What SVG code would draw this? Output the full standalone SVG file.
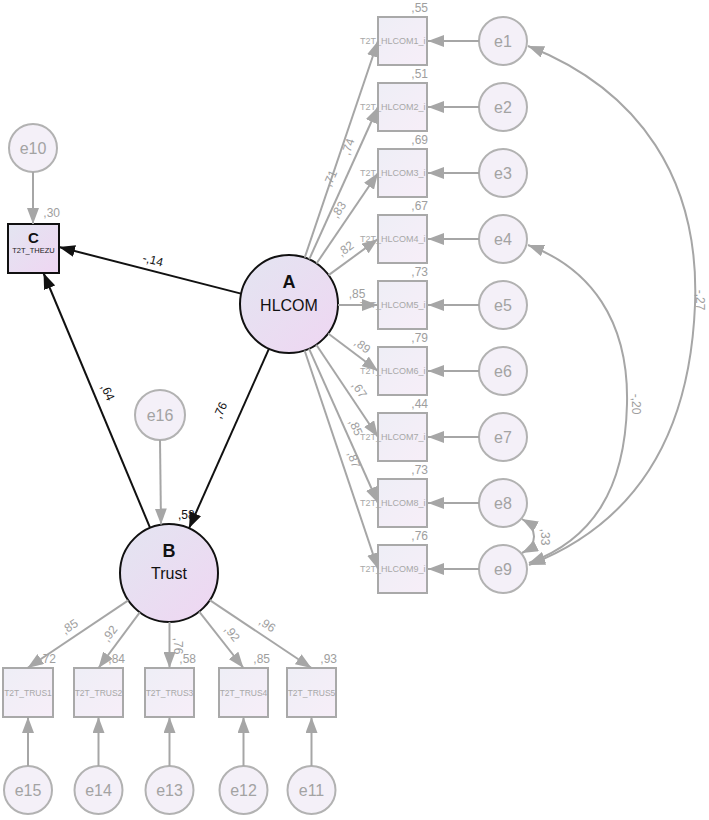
<svg xmlns="http://www.w3.org/2000/svg" width="709" height="820" viewBox="0 0 709 820">
<style>
text{font-family:"Liberation Sans",Arial,sans-serif}
.box{fill:url(#gbox);stroke:#a9a9a9;stroke-width:2}
.err{fill:#f4f0f8;stroke:#b2b2b2;stroke-width:2}
.lat{fill:url(#glat);stroke:#111;stroke-width:2}
.et{font-size:16px;fill:#a3a3a3;text-anchor:middle}
.bt{font-size:9px;fill:#a8a8a8}
.tt{font-size:8.5px;fill:#a8a8a8;text-anchor:middle}
.lab{font-size:12px;fill:#9e9e9e}
.r2{font-size:12px;fill:#9e9e9e;text-anchor:end}
.blab{font-size:12px;fill:#111}
.g{stroke:#a6a6a6;stroke-width:2;fill:none;marker-end:url(#ag)}
.gc{stroke:#a6a6a6;stroke-width:2;fill:none;marker-end:url(#ag);marker-start:url(#ag)}
.k{stroke:#111;stroke-width:2;fill:none;marker-end:url(#ak)}
</style>
<defs>
<linearGradient id="gbox" x1="0" y1="0" x2="1" y2="1"><stop offset="0" stop-color="#eeeef6"/><stop offset="1" stop-color="#f7eef8"/></linearGradient>
<linearGradient id="glat" x1="0" y1="0" x2="1" y2="1"><stop offset="0" stop-color="#e3e5f1"/><stop offset="1" stop-color="#efd6f2"/></linearGradient>
<marker id="ag" markerUnits="userSpaceOnUse" markerWidth="16" markerHeight="12" refX="16" refY="6" orient="auto-start-reverse"><path d="M0,0 L16,6 L0,12 z" fill="#a6a6a6"/></marker>
<marker id="ak" markerUnits="userSpaceOnUse" markerWidth="16" markerHeight="12" refX="16" refY="6" orient="auto"><path d="M0,0 L16,6 L0,12 z" fill="#111"/></marker>
</defs>
<rect width="709" height="820" fill="#fff"/>

<g id="e10"><circle class="err" cx="33" cy="148" r="24"/><text class="et" x="33" y="154">e10</text></g>
<g id="C"><rect x="8" y="224" width="51" height="49" fill="url(#glat)" stroke="#111" stroke-width="2"/><text x="33.5" y="243" font-size="15" font-weight="bold" text-anchor="middle" fill="#111">C</text><text x="33.5" y="253" font-size="7.5" text-anchor="middle" fill="#222">T2T_THEZU</text><text class="r2" x="60" y="217">,30</text></g>

<g id="A"><circle class="lat" cx="289" cy="304" r="49"/><text x="289" y="288" font-size="18" font-weight="bold" text-anchor="middle" fill="#111">A</text><text x="289" y="311" font-size="16" text-anchor="middle" fill="#111">HLCOM</text></g>
<g id="B"><circle class="lat" cx="169" cy="573" r="49"/><text x="169" y="557" font-size="18" font-weight="bold" text-anchor="middle" fill="#111">B</text><text x="169" y="579" font-size="16" text-anchor="middle" fill="#111">Trust</text><text class="blab" x="178" y="519">,58</text></g>
<g id="e16"><circle class="err" cx="160" cy="415" r="25"/><text class="et" x="160" y="421">e16</text></g>

<g id="HLCOM1"><rect class="box" x="378" y="17" width="49" height="48"/><text class="bt" x="360" y="44">T2T_HLCOM1_i</text><text class="r2" x="428" y="12">,55</text></g>
<g id="HLCOM2"><rect class="box" x="378" y="83" width="49" height="48"/><text class="bt" x="360" y="110">T2T_HLCOM2_i</text><text class="r2" x="428" y="78">,51</text></g>
<g id="HLCOM3"><rect class="box" x="378" y="149" width="49" height="48"/><text class="bt" x="360" y="176">T2T_HLCOM3_i</text><text class="r2" x="428" y="144">,69</text></g>
<g id="HLCOM4"><rect class="box" x="378" y="215" width="49" height="48"/><text class="bt" x="360" y="242">T2T_HLCOM4_i</text><text class="r2" x="428" y="210">,67</text></g>
<g id="HLCOM5"><rect class="box" x="378" y="281" width="49" height="48"/><text class="bt" x="360" y="308">T2T_HLCOM5_i</text><text class="r2" x="428" y="276">,73</text></g>
<g id="HLCOM6"><rect class="box" x="378" y="347" width="49" height="48"/><text class="bt" x="360" y="374">T2T_HLCOM6_i</text><text class="r2" x="428" y="342">,79</text></g>
<g id="HLCOM7"><rect class="box" x="378" y="413" width="49" height="48"/><text class="bt" x="360" y="440">T2T_HLCOM7_i</text><text class="r2" x="428" y="408">,44</text></g>
<g id="HLCOM8"><rect class="box" x="378" y="479" width="49" height="48"/><text class="bt" x="360" y="506">T2T_HLCOM8_i</text><text class="r2" x="428" y="474">,73</text></g>
<g id="HLCOM9"><rect class="box" x="378" y="545" width="49" height="48"/><text class="bt" x="360" y="572">T2T_HLCOM9_i</text><text class="r2" x="428" y="540">,76</text></g>

<g id="e1"><circle class="err" cx="503" cy="41" r="24"/><text class="et" x="503" y="47">e1</text></g>
<g id="e2"><circle class="err" cx="503" cy="107" r="24"/><text class="et" x="503" y="113">e2</text></g>
<g id="e3"><circle class="err" cx="503" cy="173" r="24"/><text class="et" x="503" y="179">e3</text></g>
<g id="e4"><circle class="err" cx="503" cy="239" r="24"/><text class="et" x="503" y="245">e4</text></g>
<g id="e5"><circle class="err" cx="503" cy="305" r="24"/><text class="et" x="503" y="311">e5</text></g>
<g id="e6"><circle class="err" cx="503" cy="371" r="24"/><text class="et" x="503" y="377">e6</text></g>
<g id="e7"><circle class="err" cx="503" cy="437" r="24"/><text class="et" x="503" y="443">e7</text></g>
<g id="e8"><circle class="err" cx="503" cy="503" r="24"/><text class="et" x="503" y="509">e8</text></g>
<g id="e9"><circle class="err" cx="503" cy="569" r="24"/><text class="et" x="503" y="575">e9</text></g>

<g id="TRUS1"><rect class="box" x="3" y="668" width="50" height="49"/><text class="tt" x="28" y="696">T2T_TRUS1</text><text class="r2" x="56" y="663">,72</text></g>
<g id="TRUS2"><rect class="box" x="74" y="668" width="49" height="49"/><text class="tt" x="98.5" y="696">T2T_TRUS2</text><text class="r2" x="125" y="663">,84</text></g>
<g id="TRUS3"><rect class="box" x="145" y="668" width="49" height="49"/><text class="tt" x="169.5" y="696">T2T_TRUS3</text><text class="r2" x="196" y="663">,58</text></g>
<g id="TRUS4"><rect class="box" x="219" y="668" width="49" height="49"/><text class="tt" x="243.5" y="696">T2T_TRUS4</text><text class="r2" x="270" y="663">,85</text></g>
<g id="TRUS5"><rect class="box" x="287" y="668" width="49" height="49"/><text class="tt" x="311.5" y="696">T2T_TRUS5</text><text class="r2" x="337" y="663">,93</text></g>

<g id="e15"><circle class="err" cx="28" cy="790" r="24"/><text class="et" x="28" y="796">e15</text></g>
<g id="e14"><circle class="err" cx="98.5" cy="790" r="24"/><text class="et" x="98.5" y="796">e14</text></g>
<g id="e13"><circle class="err" cx="169.5" cy="790" r="24"/><text class="et" x="169.5" y="796">e13</text></g>
<g id="e12"><circle class="err" cx="243.5" cy="790" r="24"/><text class="et" x="243.5" y="796">e12</text></g>
<g id="e11"><circle class="err" cx="311.5" cy="790" r="24"/><text class="et" x="311.5" y="796">e11</text></g>

<g id="connectors">
<line class="g" x1="33" y1="172" x2="33" y2="224"/>
<line class="k" x1="241" y1="293.6" x2="59" y2="247"/>
<text class="blab" transform="translate(152,264) rotate(14)" text-anchor="middle">-,14</text>
<line class="k" x1="150.1" y1="527.8" x2="43.5" y2="273"/>
<text class="blab" transform="translate(104,394) rotate(66)" text-anchor="middle">,64</text>
<line class="k" x1="269" y1="348.7" x2="189" y2="528.3"/>
<text class="blab" transform="translate(224,412) rotate(-66)" text-anchor="middle">,76</text>
<line class="g" x1="160" y1="440" x2="161" y2="524.5"/>

<line class="g" x1="304.7" y1="257.6" x2="378" y2="41"/>
<line class="g" x1="309.2" y1="259.3" x2="378" y2="107"/>
<line class="g" x1="316.5" y1="263.5" x2="378" y2="173"/>
<line class="g" x1="328.6" y1="275.1" x2="378" y2="239"/>
<line class="g" x1="338" y1="305" x2="378" y2="305"/>
<line class="g" x1="328.2" y1="333.5" x2="378" y2="371"/>
<line class="g" x1="316.3" y1="344.7" x2="378" y2="437"/>
<line class="g" x1="309" y1="348.7" x2="378" y2="503"/>
<line class="g" x1="304.6" y1="350.5" x2="378" y2="569"/>
<text class="lab" transform="translate(352,148) rotate(-71)" text-anchor="middle">,74</text>
<text class="lab" transform="translate(334,180) rotate(-66)" text-anchor="middle">,71</text>
<text class="lab" transform="translate(342,212) rotate(-56)" text-anchor="middle">,83</text>
<text class="lab" transform="translate(348,252) rotate(-36)" text-anchor="middle">,82</text>
<text class="lab" transform="translate(357,298)" text-anchor="middle">,85</text>
<text class="lab" transform="translate(360,349) rotate(37)" text-anchor="middle">,89</text>
<text class="lab" transform="translate(356,392) rotate(56)" text-anchor="middle">,67</text>
<text class="lab" transform="translate(352,429) rotate(66)" text-anchor="middle">,85</text>
<text class="lab" transform="translate(350,461) rotate(71)" text-anchor="middle">,87</text>

<line class="g" x1="479" y1="41" x2="428" y2="41"/>
<line class="g" x1="479" y1="107" x2="428" y2="107"/>
<line class="g" x1="479" y1="173" x2="428" y2="173"/>
<line class="g" x1="479" y1="239" x2="428" y2="239"/>
<line class="g" x1="479" y1="305" x2="428" y2="305"/>
<line class="g" x1="479" y1="371" x2="428" y2="371"/>
<line class="g" x1="479" y1="437" x2="428" y2="437"/>
<line class="g" x1="479" y1="503" x2="428" y2="503"/>
<line class="g" x1="479" y1="569" x2="428" y2="569"/>

<path class="gc" d="M528 46 C640 90 700 180 695 305 C690 430 640 522 529 565"/>
<text class="lab" transform="translate(696,300) rotate(90)" text-anchor="middle">-,27</text>
<path class="gc" d="M528 245 C590 268 629 320 627 404 C625 490 592 540 529 563"/>
<text class="lab" transform="translate(632,404) rotate(90)" text-anchor="middle">-,20</text>
<path class="gc" d="M522 519 C538 528 538 545 522 553"/>
<text class="lab" transform="translate(541,537) rotate(90)" text-anchor="middle">,33</text>

<line class="g" x1="128.3" y1="600.3" x2="27.5" y2="668"/>
<line class="g" x1="139.8" y1="612.3" x2="98.5" y2="668"/>
<line class="g" x1="169.5" y1="622" x2="169.5" y2="668"/>
<line class="g" x1="199.2" y1="611.6" x2="243.5" y2="668"/>
<line class="g" x1="209.8" y1="600.2" x2="311.5" y2="668"/>
<text class="lab" transform="translate(72,630) rotate(-34)" text-anchor="middle">,85</text>
<text class="lab" transform="translate(113,636) rotate(-53)" text-anchor="middle">,92</text>
<text class="lab" transform="translate(174,646) rotate(90)" text-anchor="middle">,76</text>
<text class="lab" transform="translate(229,636) rotate(52)" text-anchor="middle">,92</text>
<text class="lab" transform="translate(265,628) rotate(34)" text-anchor="middle">,96</text>

<line class="g" x1="28" y1="766" x2="28" y2="717"/>
<line class="g" x1="98.5" y1="766" x2="98.5" y2="717"/>
<line class="g" x1="169.5" y1="766" x2="169.5" y2="717"/>
<line class="g" x1="243.5" y1="766" x2="243.5" y2="717"/>
<line class="g" x1="311.5" y1="766" x2="311.5" y2="717"/>
</g>
</svg>
